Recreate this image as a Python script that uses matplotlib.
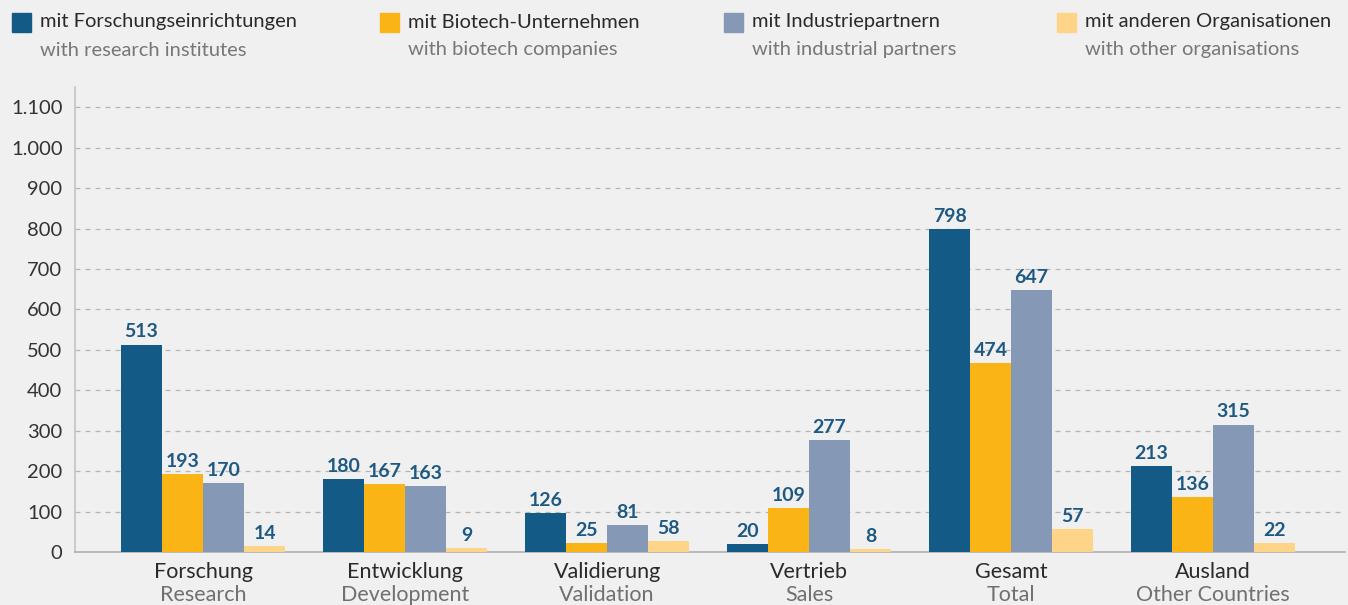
import numpy as np
import matplotlib.pyplot as plt

# Data
categories_de = ["Forschung", "Entwicklung", "Validierung", "Vertrieb", "Gesamt", "Ausland"]
categories_en = ["Research", "Development", "Validation", "Sales", "Total", "Other Countries"]

series_de = ["mit Forschungseinrichtungen", "mit Biotech-Unternehmen",
             "mit Industriepartnern", "mit anderen Organisationen"]
series_en = ["with research institutes", "with biotech companies",
             "with industrial partners", "with other organisations"]

# printed values
research_inst = [513, 180, 126, 20, 798, 213]
biotech = [193, 167, 25, 109, 474, 136]
industry = [170, 163, 81, 277, 647, 315]
other = [14, 9, 58, 8, 57, 22]

# bar heights as drawn in the picture (some differ from the printed labels)
research_inst_h = [513, 180, 96, 20, 798, 213]
biotech_h = [193, 167, 22, 109, 467, 136]
industry_h = [170, 163, 67, 277, 647, 315]
other_h = [14, 9, 27, 8, 57, 22]

yticks = [0, 100, 200, 300, 400, 500, 600, 700, 800, 900, 1000, 1100]
ytick_labels = ["0", "100", "200", "300", "400", "500", "600", "700", "800", "900", "1.000", "1.100"]

colors = ["#135a87", "#fbb416", "#8598b5", "#fdd488"]
bg = "#f0f0f0"
label_col = "#1e5983"

plt.rcParams["font.family"] = ["Lato", "DejaVu Sans"]

fig = plt.figure(figsize=(13.48, 6.05), dpi=100, facecolor=bg)
ax = fig.add_axes([75 / 1348, 53 / 605, 1270 / 1348, 465 / 605])
ax.set_facecolor(bg)

x = np.arange(len(categories_de))
w = 0.203
heights = [research_inst_h, biotech_h, industry_h, other_h]
labels = [research_inst, biotech, industry, other]

for i in range(4):
    pos = x + (i - 1.5) * w
    ax.bar(pos, heights[i], width=w, color=colors[i], zorder=3)
    for px, h, v in zip(pos, heights[i], labels[i]):
        ax.annotate(str(v), (px, h), xytext=(0, 3), textcoords="offset points",
                    ha="center", va="bottom", fontsize=14, fontweight="bold",
                    color=label_col, zorder=4)

ax.set_xlim(-0.634, 5.653)
ax.set_ylim(0, 1150)
ax.set_yticks(yticks)
ax.set_yticklabels(ytick_labels, fontsize=14.5, color="#333333")
ax.set_xticks([])
ax.tick_params(axis="y", length=0, pad=9)
ax.grid(axis="y", color="#b5b5b5", linestyle=(0, (4, 4)), linewidth=0.9, zorder=0)

for s in ["top", "right"]:
    ax.spines[s].set_visible(False)
ax.spines["left"].set_color("#c4c4c4")
ax.spines["bottom"].set_color("#b0b0b0")
ax.spines["left"].set_linewidth(1.2)
ax.spines["bottom"].set_linewidth(1.2)

# category labels, two lines
for xi, de, en in zip(x, categories_de, categories_en):
    ax.annotate(de, (xi, 0), xytext=(0, -7), textcoords="offset points",
                ha="center", va="top", fontsize=15.5, color="#2a2a2a",
                annotation_clip=False)
    ax.annotate(en, (xi, 0), xytext=(0, -24), textcoords="offset points",
                ha="center", va="top", fontsize=15.5, color="#707070",
                annotation_clip=False)

# legend at top
sq_x = [12, 380, 724, 1057]
txt_x = [40, 408, 752, 1085]
for sx, tx, c, de, en in zip(sq_x, txt_x, colors, series_de, series_en):
    fig.patches.append(plt.Rectangle((sx / 1348, 1 - 32 / 605), 19 / 1348, 19 / 605,
                                     transform=fig.transFigure, color=c, figure=fig))
    fig.text(tx / 1348, 1 - 22 / 605, de, fontsize=14.5, color="#2a2a2a",
             va="center", ha="left")
    fig.text(tx / 1348, 1 - 50 / 605, en, fontsize=14.5, color="#777777",
             va="center", ha="left")

fig.savefig("out.png", dpi=100, facecolor=bg)
